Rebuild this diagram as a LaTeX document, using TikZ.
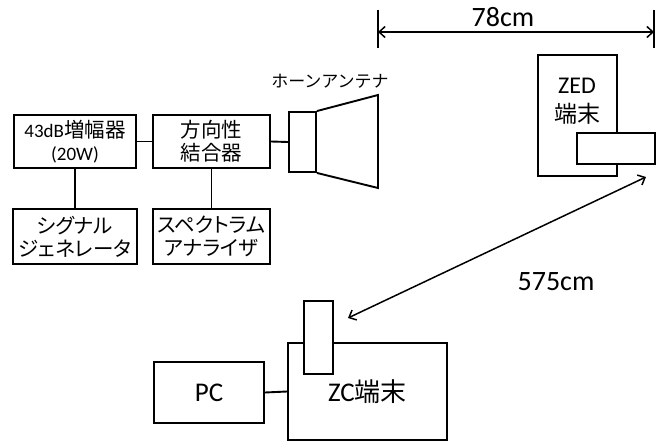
\documentclass[tikz,border=0pt]{standalone}
\usepackage{fontspec}
\setmainfont{Carlito}
\newfontfamily\jp{Noto Sans CJK JP}[RawFeature=+palt]
\newfontfamily\jpf{Noto Sans CJK JP}
\newcommand\jbox[1]{{\jp\fontsize{20.5}{23}\selectfont #1}}
\usetikzlibrary{arrows.meta}
\begin{document}
\begin{tikzpicture}[x=1pt,y=-1pt,
  box/.style={draw, line width=1.9pt, rectangle, inner sep=0pt, align=center, fill=white},
  wire/.style={line width=1.9pt},
  dim/.style={line width=1.5pt, {Straight Barb[length=6pt,width=11pt]}-{Straight Barb[length=6pt,width=11pt]}},
  lbl/.style={font=\fontsize{19}{23}\selectfont}
]
\useasboundingbox (0,0) rectangle (665,442);
% left chain
\node[box, lbl, minimum width=122pt, minimum height=53pt] (amp) at (75,141.5) {43dB\jbox{増幅器}\\(20W)};
\node[box, lbl, minimum width=117pt, minimum height=53pt] (cpl) at (211.5,141.5) {\jbox{方向性}\\\jbox{結合器}};
\node[box, lbl, minimum width=124pt, minimum height=55pt] (sg) at (75,236.5) {\jbox{シグナル}\\\jbox{ジェネレータ}};
\node[box, lbl, minimum width=117pt, minimum height=55pt] (sa) at (211.5,236.5) {\jbox{スペクトラム}\\\jbox{アナライザ}};
\node[box, minimum width=27pt, minimum height=60pt] (horn) at (302.5,142) {};
\draw[wire, line join=miter] (horn.north east) -- (378,95) -- (378,188) -- (horn.south east);
\node[font=\fontsize{17}{20}\selectfont\jpf] (hornl) at (330,81) {ホーンアンテナ};
\draw[wire] (amp.east) -- (cpl.west);
\draw[wire] (cpl.east) -- (horn.west);
\draw[wire] (amp.south) -- (sg.north);
\draw[wire] (cpl.south) -- (sa.north);
% dimension 78cm
\coordinate (t1a) at (378,10); \coordinate (t1b) at (378,48);
\coordinate (t2a) at (654,10); \coordinate (t2b) at (654,48);
\coordinate (d1) at (378,32); \coordinate (d2) at (654,32);
\draw[wire] (t1a) -- (t1b);
\draw[wire] (t2a) -- (t2b);
\draw[dim] (d1) -- (d2);
\node[font=\fontsize{28}{30}\selectfont, anchor=base] (dl) at (503,26) {78cm};
% ZED
\node[box, minimum width=79pt, minimum height=121pt] (zed) at (577.5,115.5) {};
\node[font=\fontsize{24}{29}\selectfont, align=center] (zedl) at (577,101) {ZED\\{\jpf\fontsize{23}{29}\selectfont 端末}};
\node[box, minimum width=78pt, minimum height=31pt] (zeda) at (616,148.5) {};
% ZC
\node[box, font=\fontsize{27}{30}\selectfont, minimum width=159pt, minimum height=97pt] (zc) at (367.5,391.5) {ZC{\jpf\fontsize{26}{30}\selectfont 端末}};
\node[box, minimum width=29pt, minimum height=73pt] (zca) at (318.5,337.5) {};
\node[box, font=\fontsize{27}{30}\selectfont, minimum width=110pt, minimum height=61pt] (pc) at (209,392.5) {PC};
\draw[wire] (pc.east) -- (zc.west);
% 575cm
\coordinate (ae) at (646,177); \coordinate (as) at (348,318);
\draw[dim] (as) -- (ae);
\node[font=\fontsize{28}{30}\selectfont, anchor=base] (fl) at (556,290) {575cm};
\end{tikzpicture}
\end{document}
